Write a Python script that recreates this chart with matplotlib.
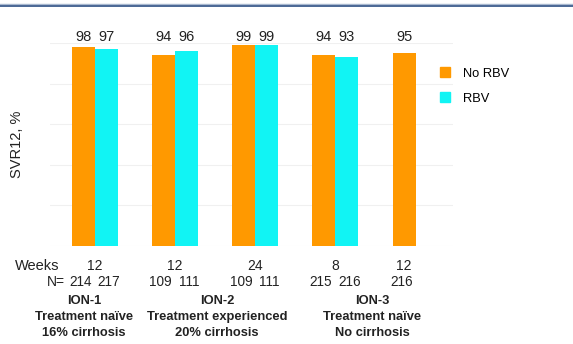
import matplotlib
matplotlib.use("Agg")
import matplotlib.pyplot as plt
import matplotlib.transforms as mtransforms
from matplotlib.lines import Line2D
import numpy as np

plt.rcParams['font.family'] = ['Liberation Sans', 'DejaVu Sans']

no_rbv = [98, 94, 99, 94, 95]
rbv = [97, 96, 99, 93, None]
weeks = ["12", "12", "24", "8", "12"]
n_no_rbv = ["214", "109", "109", "215", "216"]
n_rbv = ["217", "111", "111", "216", None]
studies = ["ION-1", "ION-2", "ION-3"]
study_lines = [["Treatment naïve", "16% cirrhosis"],
               ["Treatment experienced", "20% cirrhosis"],
               ["Treatment naïve", "No cirrhosis"]]
series_names = ["No RBV", "RBV"]
c_orange = '#FF9900'
c_cyan = '#11F4F4'
tcol = '#222222'

W, H = 573, 344
fig = plt.figure(figsize=(W / 100, H / 100), dpi=100)
ax = fig.add_axes([50 / W, (H - 246) / H, (453 - 50) / W, (246 - 43) / H])

x = np.arange(len(no_rbv))
bw = 0.286
xo = x - bw / 2
xc = x + bw / 2
ax.bar(xo, no_rbv, width=bw, color=c_orange, zorder=3)
rx = [xc[i] for i in range(len(rbv)) if rbv[i] is not None]
rv = [v for v in rbv if v is not None]
ax.bar(rx, rv, width=bw, color=c_cyan, zorder=3)

tr = mtransforms.blended_transform_factory(ax.transData, fig.transFigure)
def fy(py):
    return 1 - py / H

for i, v in enumerate(no_rbv):
    ax.text(xo[i], fy(37), str(v), transform=tr, ha='center', va='center', fontsize=10.5, color=tcol)
for i, v in enumerate(rbv):
    if v is not None:
        ax.text(xc[i], fy(37), str(v), transform=tr, ha='center', va='center', fontsize=10.5, color=tcol)

ax.set_xlim(-0.557, 4.465)
ax.set_ylim(0, 100)
ax.set_yticks(range(0, 101, 20))
ax.yaxis.grid(True, color='#f0f0f0', linewidth=0.8, zorder=0)
ax.tick_params(left=False, bottom=False, labelleft=False, labelbottom=False)
for s in ax.spines.values():
    s.set_visible(False)

fig.text(17 / W, 1 - 144 / H, "SVR12, %", rotation=90, ha='center', va='center', fontsize=10.5, color=tcol)

fig.text(15 / W, fy(266), "Weeks", ha='left', va='center', fontsize=10.5, color=tcol)
for i, w in enumerate(weeks):
    cx = x[i] if rbv[i] is not None else xo[i]
    ax.text(cx, fy(266), w, transform=tr, ha='center', va='center', fontsize=10, color=tcol)
nshift = 0.035
ax.text(xo[0] - nshift - bw * 0.68, fy(282), "N=", transform=tr, ha='right', va='center', fontsize=10, color=tcol)
for i in range(len(no_rbv)):
    ax.text(xo[i] - nshift, fy(282), n_no_rbv[i], transform=tr, ha='center', va='center', fontsize=9.8, color=tcol)
    if n_rbv[i] is not None:
        ax.text(xc[i] + nshift, fy(282), n_rbv[i], transform=tr, ha='center', va='center', fontsize=9.8, color=tcol)

study_cx = [84, 217, 372]
for j, name in enumerate(studies):
    fig.text(study_cx[j] / W, fy(301), name, ha='center', va='center', fontsize=9.3, fontweight='bold', color=tcol)
    fig.text(study_cx[j] / W, fy(317), study_lines[j][0], ha='center', va='center', fontsize=9.3, fontweight='bold', color=tcol)
    fig.text(study_cx[j] / W, fy(333), study_lines[j][1], ha='center', va='center', fontsize=9.3, fontweight='bold', color=tcol)

handles = [Line2D([], [], marker='s', linestyle='none', markersize=7, color=c) for c in (c_orange, c_cyan)]
fig.legend(handles, series_names, loc='upper left', bbox_to_anchor=(426 / W, 1 - 56 / H),
           frameon=False, fontsize=9.3, handletextpad=0.8, labelspacing=1.0, handlelength=1.2)

fig.add_artist(Line2D([0, 1], [fy(4.3), fy(4.3)], transform=fig.transFigure, color='#a8b8d0', linewidth=1.0))
fig.add_artist(Line2D([0, 1], [fy(5.7), fy(5.7)], transform=fig.transFigure, color='#3c5c8c', linewidth=1.3))

fig.savefig("out.png", dpi=100)
